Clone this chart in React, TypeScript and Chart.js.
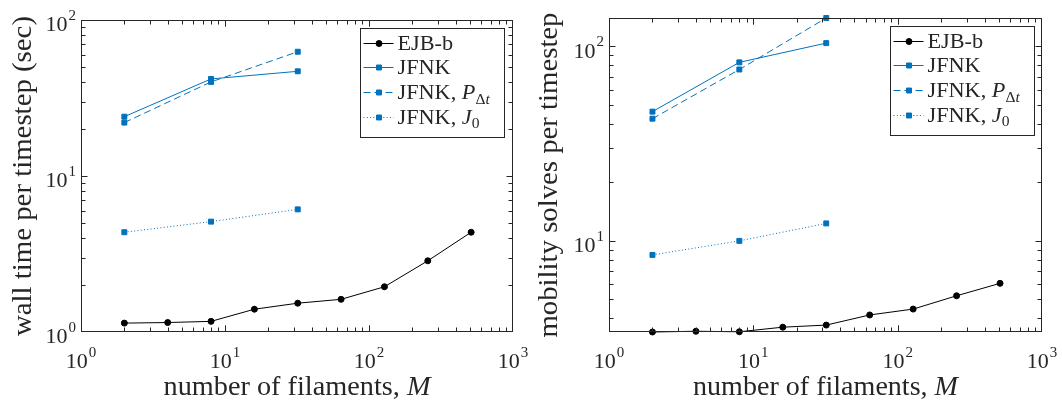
import React, { useEffect, useRef } from "react";
import { Chart, registerables } from "chart.js";

Chart.register(...registerables);

// ---------- data ----------
const filaments = [2, 4, 8, 16, 32, 64, 128, 256, 512];
const jfnkFilaments = [2, 8, 32];

const wallEJB = [1.14, 1.15, 1.17, 1.4, 1.53, 1.62, 1.95, 2.86, 4.36];
const wallJFNK = [24.0, 41.9, 46.9];
const wallJFNKP = [22.0, 40.1, 62.6];
const wallJFNKJ0 = [4.36, 5.1, 6.11];

const solvesEJB = [3.4, 3.43, 3.41, 3.6, 3.69, 4.16, 4.46, 5.22, 6.05];
const solvesJFNK = [46.2, 82.8, 104];
const solvesJFNKP = [42.5, 76.1, 140];
const solvesJFNKJ0 = [8.47, 10.0, 12.3];

const xDecades = [1, 10, 100, 1000];
const wallDecades = [1, 10, 100];
const solvesDecades = [10, 100];

const legendLabels = ["EJB-b", "JFNK", "JFNK, P_Δt", "JFNK, J_0"];
const xTitleText = "number of filaments, ";
const xTitleSymbol = "M";
const wallTitle = "wall time per timestep (sec)";
const solvesTitle = "mobility solves per timestep";

// ---------- styles ----------
const BLUE = "#0072BD";
const INK = "#262626";
const SERIF = '"Liberation Serif", "Times New Roman", serif';

type SeriesStyle = { color: string; dash: number[]; marker: "circle" | "rect"; radius: number };
const seriesStyles: SeriesStyle[] = [
  { color: "#000000", dash: [], marker: "circle", radius: 3 },
  { color: BLUE, dash: [], marker: "rect", radius: 3.5 },
  { color: BLUE, dash: [7, 4], marker: "rect", radius: 3.5 },
  { color: BLUE, dash: [1, 2.3], marker: "rect", radius: 3.5 },
];

type PanelCfg = {
  left: number;
  series: number[][];
  yMin: number;
  yMax: number;
  yDecades: number[];
  yTitle: string;
  yTitleX: number;
  yTitleWidth: number;
  xTitleWidth: number;
  yWidth: number;
  padTop: number;
  padRight: number;
  legendRight: number;
};

function font(size: number, italic = false) {
  return `${italic ? "italic " : ""}${size}px ${SERIF}`;
}

type Seg = { t: string; italic?: boolean; sub?: boolean };

function labelSegments(label: string): Seg[] {
  const k = label.indexOf("_");
  if (k < 0) return [{ t: label }];
  const segs: Seg[] = [{ t: label.slice(0, k - 1) }, { t: label.slice(k - 1, k), italic: true }];
  for (const ch of label.slice(k + 1)) segs.push({ t: ch, sub: true, italic: /[a-z]/.test(ch) });
  return segs;
}

function measureSegs(ctx: any, segs: Seg[], size: number) {
  let w = 0;
  for (const s of segs) {
    ctx.font = font(s.sub ? size * 0.7 : size, s.italic);
    w += ctx.measureText(s.t).width;
  }
  return w;
}

function drawSegs(ctx: any, segs: Seg[], x: number, y: number, size: number) {
  let cx = x;
  for (const s of segs) {
    ctx.font = font(s.sub ? size * 0.7 : size, s.italic);
    ctx.fillText(s.t, cx, s.sub ? y + size * 0.22 : y);
    cx += ctx.measureText(s.t).width;
  }
}

// draw text centred at cx, stretched horizontally to the given width
function drawFit(ctx: any, segs: Seg[], cx: number, y: number, size: number, width: number) {
  const nat = measureSegs(ctx, segs, size);
  ctx.save();
  ctx.translate(cx - width / 2, y);
  ctx.scale(width / nat, 1);
  drawSegs(ctx, segs, 0, 0, size);
  ctx.restore();
}

function drawPower(ctx: any, exp: number, x: number, y: number, align: "center" | "right") {
  ctx.font = font(22);
  const w1 = ctx.measureText("10").width;
  const e = String(exp);
  ctx.font = font(15);
  const w2 = ctx.measureText(e).width;
  const total = w1 + 1 + w2;
  const left = align === "center" ? x - total / 2 : x - total;
  ctx.font = font(22);
  ctx.fillText("10", left, y);
  ctx.font = font(15);
  ctx.fillText(e, left + w1 + 1, y - 11.5);
}

function drawMarker(ctx: any, st: SeriesStyle, x: number, y: number) {
  ctx.setLineDash([]);
  ctx.fillStyle = st.color;
  ctx.strokeStyle = st.color;
  ctx.lineWidth = 1;
  ctx.beginPath();
  if (st.marker === "circle") {
    ctx.arc(x, y, st.radius, 0, Math.PI * 2);
  } else {
    const h = st.radius * Math.SQRT1_2;
    ctx.rect(x - h, y - h, 2 * h, 2 * h);
  }
  ctx.fill();
  ctx.stroke();
}

function makePlugin(cfg: PanelCfg) {
  return {
    id: "panelDecor",
    afterDraw(chart: any) {
      const { ctx, chartArea: a, scales } = chart;
      const xs = scales.x;
      const ys = scales.y;
      ctx.save();
      ctx.textAlign = "left";
      ctx.textBaseline = "alphabetic";
      // box
      const L = Math.round(a.left) + 0.5;
      const R = Math.round(a.right) - 0.5;
      const T = Math.round(a.top) + 0.5;
      const B = Math.round(a.bottom) - 0.5;
      ctx.strokeStyle = INK;
      ctx.lineWidth = 1;
      ctx.setLineDash([]);
      ctx.strokeRect(L, T, R - L, B - T);
      // inward ticks
      ctx.beginPath();
      for (const d of [1, 10, 100]) {
        for (let m = 1; m <= 10; m++) {
          const v = d * m;
          if (v <= 1 || v >= 1000) continue;
          const px = Math.round(xs.getPixelForValue(v)) + 0.5;
          const len = m === 1 || m === 10 ? 6 : 4;
          ctx.moveTo(px, B);
          ctx.lineTo(px, B - len);
          ctx.moveTo(px, T);
          ctx.lineTo(px, T + len);
        }
      }
      const d0 = Math.pow(10, Math.floor(Math.log10(cfg.yMin)));
      for (let d = d0; d < cfg.yMax; d *= 10) {
        for (let m = 1; m <= 9; m++) {
          const v = d * m;
          if (v <= cfg.yMin || v >= cfg.yMax) continue;
          const py = Math.round(ys.getPixelForValue(v)) + 0.5;
          const len = m === 1 ? 6 : 4;
          ctx.moveTo(L, py);
          ctx.lineTo(L + len, py);
          ctx.moveTo(R, py);
          ctx.lineTo(R - len, py);
        }
      }
      ctx.stroke();
      // tick labels
      ctx.fillStyle = INK;
      xDecades.forEach((v) => {
        drawPower(ctx, Math.round(Math.log10(v)), xs.getPixelForValue(v), a.bottom + 36, "center");
      });
      cfg.yDecades.forEach((v) => {
        drawPower(ctx, Math.round(Math.log10(v)), a.left - 5, ys.getPixelForValue(v) + 11.3, "right");
      });
      // x title
      const xSegs: Seg[] = [{ t: xTitleText }, { t: xTitleSymbol, italic: true }];
      drawFit(ctx, xSegs, (a.left + a.right) / 2, a.bottom + 63, 27, cfg.xTitleWidth);
      // y title
      ctx.save();
      ctx.translate(cfg.yTitleX, (a.top + a.bottom) / 2);
      ctx.rotate(-Math.PI / 2);
      drawFit(ctx, [{ t: cfg.yTitle }], 0, 0, 27, cfg.yTitleWidth);
      ctx.restore();
      // legend
      const bw = 144;
      const bh = 109;
      const bx = Math.round(a.right - cfg.legendRight - bw) + 0.5;
      const by = Math.round(a.top + 8) + 0.5;
      ctx.fillStyle = "#ffffff";
      ctx.fillRect(bx, by, bw, bh);
      ctx.strokeStyle = INK;
      ctx.lineWidth = 1;
      ctx.setLineDash([]);
      ctx.strokeRect(bx, by, bw, bh);
      legendLabels.forEach((lab, i) => {
        const st = seriesStyles[i];
        const base = by + 21 + i * 24.7;
        const cy = Math.round(base - 7) + 0.5;
        ctx.strokeStyle = st.color;
        ctx.lineWidth = 1;
        ctx.setLineDash(st.dash);
        ctx.beginPath();
        ctx.moveTo(bx + 3, cy);
        ctx.lineTo(bx + 33, cy);
        ctx.stroke();
        drawMarker(ctx, st, bx + 18.5, cy);
        ctx.fillStyle = INK;
        ctx.save();
        ctx.translate(bx + 37, base);
        ctx.scale(1.06, 1);
        drawSegs(ctx, labelSegments(lab), 0, 0, 21);
        ctx.restore();
      });
      ctx.restore();
    },
  };
}

function Panel({ cfg }: { cfg: PanelCfg }) {
  const ref = useRef<HTMLCanvasElement | null>(null);
  useEffect(() => {
    const xsets = [filaments, jfnkFilaments, jfnkFilaments, jfnkFilaments];
    const datasets = cfg.series.map((ys, i) => {
      const st = seriesStyles[i];
      return {
        label: legendLabels[i],
        data: ys.map((y, j) => ({ x: xsets[i][j], y })),
        showLine: true,
        borderColor: st.color,
        backgroundColor: st.color,
        borderWidth: 1,
        borderDash: st.dash,
        pointStyle: st.marker,
        pointRadius: st.radius,
        pointBorderWidth: 1,
        pointBackgroundColor: st.color,
        pointBorderColor: st.color,
        clip: false as any,
      };
    });
    const chart = new Chart(ref.current as HTMLCanvasElement, {
      type: "scatter",
      data: { datasets },
      options: {
        responsive: false,
        animation: false,
        devicePixelRatio: 1,
        events: [],
        layout: { padding: { top: cfg.padTop, right: cfg.padRight, left: 0, bottom: 0 } },
        scales: {
          x: {
            type: "logarithmic",
            min: 1,
            max: 1000,
            ticks: { display: false },
            grid: { display: false },
            border: { display: false },
            afterFit: (s: any) => {
              s.height = 74;
            },
          },
          y: {
            type: "logarithmic",
            min: cfg.yMin,
            max: cfg.yMax,
            ticks: { display: false },
            grid: { display: false },
            border: { display: false },
            afterFit: (s: any) => {
              s.width = cfg.yWidth;
            },
          },
        },
        plugins: { legend: { display: false }, tooltip: { enabled: false } },
      } as any,
      plugins: [makePlugin(cfg)],
    });
    return () => chart.destroy();
  }, [cfg]);
  return (
    <canvas
      ref={ref}
      width={531}
      height={406}
      style={{ position: "absolute", left: cfg.left, top: 0, width: 531, height: 406 }}
    />
  );
}

const leftCfg: PanelCfg = {
  left: 0,
  series: [wallEJB, wallJFNK, wallJFNKP, wallJFNKJ0],
  yMin: 1,
  yMax: 100,
  yDecades: wallDecades,
  yTitle: wallTitle,
  yTitleX: 31,
  yTitleWidth: 320,
  xTitleWidth: 267,
  yWidth: 81,
  padTop: 20,
  padRight: 18,
  legendRight: 9,
};

const rightCfg: PanelCfg = {
  left: 531,
  series: [solvesEJB, solvesJFNK, solvesJFNKP, solvesJFNKJ0],
  yMin: Math.min(...solvesEJB),
  yMax: Math.max(...solvesJFNKP),
  yDecades: solvesDecades,
  yTitle: solvesTitle,
  yTitleX: 26,
  yTitleWidth: 325,
  xTitleWidth: 265,
  yWidth: 78,
  padTop: 18,
  padRight: 20,
  legendRight: 8,
};

export default function App() {
  return (
    <div style={{ position: "absolute", left: 0, top: 0, width: 1062, height: 406, background: "#ffffff" }}>
      <Panel cfg={leftCfg} />
      <Panel cfg={rightCfg} />
    </div>
  );
}
